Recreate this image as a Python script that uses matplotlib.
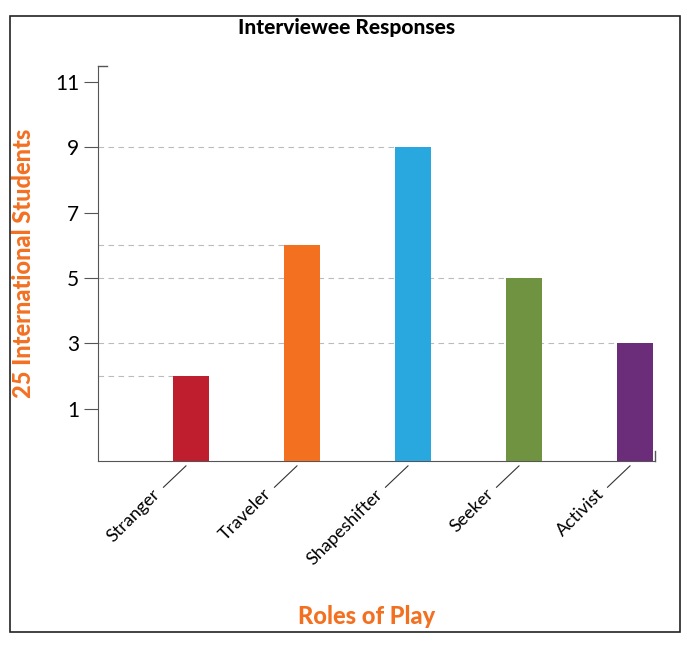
import matplotlib
matplotlib.use("Agg")
import matplotlib.pyplot as plt
from matplotlib.patches import Rectangle

categories = ["Stranger", "Traveler", "Shapeshifter", "Seeker", "Activist"]
values = [2, 6, 9, 5, 3]
colors = ["#BE1E2D", "#F37021", "#29A8E0", "#6F9340", "#6B2C7A"]
yticks = [1, 3, 5, 7, 9, 11]

plt.rcParams["font.family"] = "Lato"
fig = plt.figure(figsize=(6.94, 6.48), dpi=100)
fig.patches.append(Rectangle((10/694, 16/648), 670/694, 616/648, transform=fig.transFigure,
                             fill=False, edgecolor="#222222", lw=1.2))
ax = fig.add_axes([0.141, 0.2886, 0.803, 0.61])
ymin = -0.6
ax.set_ylim(ymin, 11.5)
ax.set_xlim(-0.84, 4.18)
x = list(range(len(categories)))
ax.bar(x, [v - ymin for v in values], bottom=ymin, width=0.32, color=colors, zorder=3)
for xi, v in zip(x, values):
    ax.plot([-0.84, xi], [v, v], ls=(0, (5, 4)), color="#bbbbbb", lw=0.8, zorder=1)
for s in ["top", "right"]:
    ax.spines[s].set_visible(False)
ax.spines["left"].set_color("#555555")
ax.spines["bottom"].set_color("#555555")
ax.set_yticks(yticks)
ax.set_yticklabels([str(t) for t in yticks], fontsize=15)
ax.tick_params(axis="y", length=10, color="#555555")
ax.set_xticks([])
ax.plot([-0.84, -0.76], [11.5, 11.5], color="#555555", lw=1, clip_on=False)
ax.plot([4.18, 4.18], [ymin, ymin + 0.3], color="#555555", lw=1, clip_on=False)
for xi, name in zip(x, categories):
    ax.annotate("", xy=(xi, ymin), xytext=(-20, -19), textcoords="offset points",
                xycoords="data", annotation_clip=False,
                arrowprops=dict(arrowstyle="-", color="#333333", lw=0.8, shrinkA=0, shrinkB=5))
    ax.annotate(name, xy=(xi, ymin), xytext=(-24, -22), textcoords="offset points",
                rotation=45, ha="right", va="center", rotation_mode="anchor",
                fontsize=13, annotation_clip=False)
ax.set_ylabel("25 International Students", color="#F37021", fontsize=17, fontweight="heavy", labelpad=14)
fig.text(0.5, 0.957, "Interviewee Responses", ha="center", va="center", fontsize=15, fontweight="heavy")
fig.text(0.528, 0.048, "Roles of Play", ha="center", va="center", fontsize=17, fontweight="heavy", color="#F37021")
fig.savefig("out.png")
